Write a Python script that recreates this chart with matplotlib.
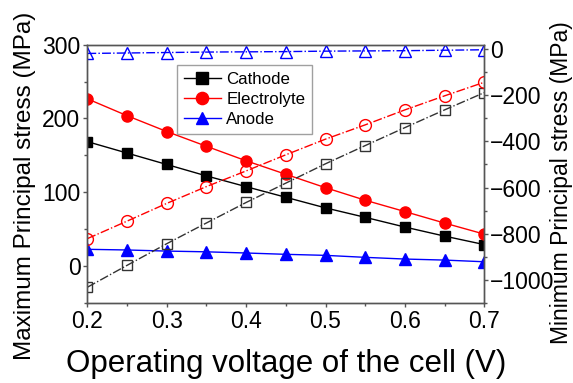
import matplotlib
matplotlib.use("Agg")
import matplotlib.pyplot as plt
from matplotlib.ticker import MultipleLocator

plt.rcParams['font.family'] = ['Liberation Sans', 'DejaVu Sans']

voltage = [0.2, 0.25, 0.3, 0.35, 0.4, 0.45, 0.5, 0.55, 0.6, 0.65, 0.7]

cathode_max = [168.5, 153, 137.5, 122, 107.4, 93, 78.6, 65.8, 52.6, 40.3, 28.8]
electrolyte_max = [226.6, 203.7, 182.2, 162.2, 142.5, 124.2, 106, 89, 73.6, 58, 43]
anode_max = [22.4, 21.5, 20, 19, 17.4, 15.6, 14.2, 11.5, 9.2, 7.8, 5.5]

cathode_min = [-1033, -938, -844, -754, -665, -581, -497, -418, -340, -263, -188]
electrolyte_min = [-822, -746, -669, -596, -528, -458, -390, -328, -263, -202, -143]
anode_min = [-18, -16, -14, -12, -11, -10, -8, -7, -6, -4, -2]

series_labels = ["Cathode", "Electrolyte", "Anode"]

fig = plt.figure(figsize=(5.73, 3.83), dpi=100)
ax = fig.add_axes([0.1524, 0.2097, 0.6928, 0.6736])
ax2 = ax.twinx()

ms = 7.5
ax.plot(voltage, cathode_max, '-s', color='black', lw=1, ms=ms, label=series_labels[0])
ax.plot(voltage, electrolyte_max, '-o', color='#ff0000', lw=1, ms=ms + 0.5, label=series_labels[1])
ax.plot(voltage, anode_max, '-^', color='#0000ff', lw=1, ms=ms + 0.5, label=series_labels[2])

ax2.plot(voltage, cathode_min, linestyle='-.', marker='s', color='#333333', lw=1, ms=ms,
         mfc='none', mec='#333333')
ax2.plot(voltage, electrolyte_min, linestyle='-.', marker='o', color='#ff0000', lw=1, ms=ms + 1,
         mfc='none')
ax2.plot(voltage, anode_min, linestyle='-.', marker='^', color='#0000ff', lw=1, ms=ms + 1,
         mfc='none')

ax.set_xlim(0.2, 0.7)
ax.set_ylim(-50, 300)
ax2.set_ylim(-1100, 20)

ax.xaxis.set_major_locator(MultipleLocator(0.1))
ax.xaxis.set_minor_locator(MultipleLocator(0.05))
ax.yaxis.set_major_locator(MultipleLocator(100))
ax.yaxis.set_minor_locator(MultipleLocator(50))
ax2.yaxis.set_major_locator(MultipleLocator(200))
ax2.yaxis.set_minor_locator(MultipleLocator(100))

for a in (ax, ax2):
    for s in a.spines.values():
        s.set_color('#555555')
        s.set_linewidth(1)
    a.tick_params(which='major', direction='out', length=3, width=1, color='#555555',
                  labelsize=16.5, pad=2)
    a.tick_params(which='minor', direction='out', length=2, width=1, color='#555555')
ax2.tick_params(axis='y', which='major', pad=1)

ax.set_xticklabels([f"{v:.1f}" for v in ax.get_xticks()])
ax.set_xlabel("Operating voltage of the cell (V)", fontsize=22.5, va='baseline')
ax.xaxis.set_label_coords(0.5, -0.268)
ax.set_ylabel("Maximum Principal stress (MPa)", fontsize=17.5, va='center')
ax.yaxis.set_label_coords(-0.158, 0.452)
ax2.set_ylabel("Minimum Principal stress (MPa)", fontsize=16.5, va='center')
ax2.yaxis.set_label_coords(1.195, 0.464)

leg = ax.legend(loc='upper left', bbox_to_anchor=(0.226, 0.921), fontsize=12.2,
                frameon=True, fancybox=False, edgecolor='#888888', handlelength=2.2,
                borderpad=0.4, labelspacing=0.3, handletextpad=0.3, borderaxespad=0,
                markerscale=1.1)
leg.get_frame().set_linewidth(1)

fig.savefig("out.png", dpi=100)
